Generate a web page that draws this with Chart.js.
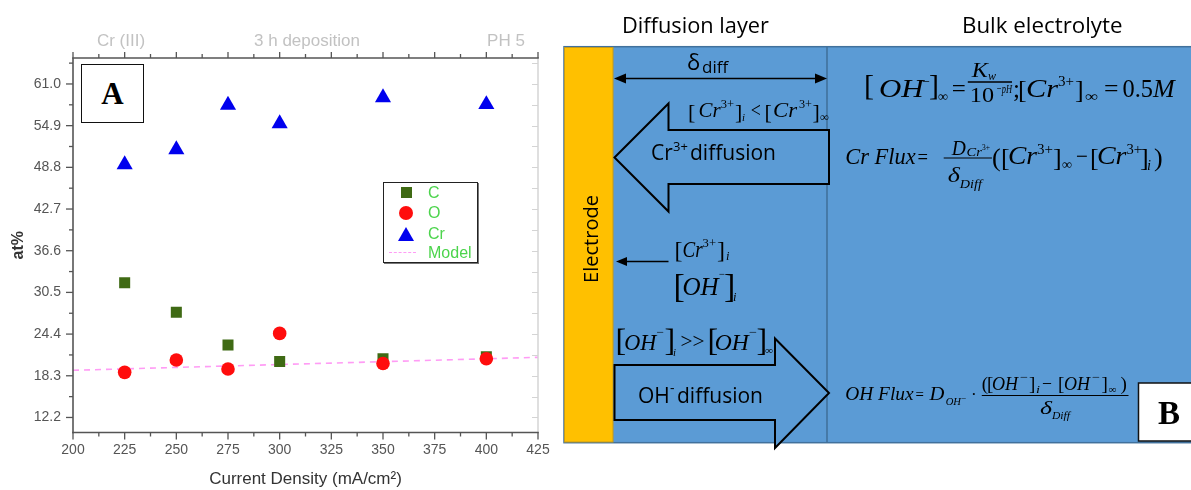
<!DOCTYPE html>
<html><head><meta charset="utf-8">
<script src="https://cdn.jsdelivr.net/npm/chart.js@4.4.1/dist/chart.umd.min.js"></script>
<style>
html,body{margin:0;padding:0;background:#fff;}
#wrap{position:relative;width:1191px;height:490px;overflow:hidden;background:#fff;}
#chart{position:absolute;left:0;top:0;}
.top{position:absolute;font:17px "Liberation Sans",Arial,sans-serif;color:#c2c2c2;transform:translate(-50%,-50%);white-space:nowrap;}
.lg{position:absolute;font:16px "Liberation Sans",Arial,sans-serif;color:#4cd44c;transform:translateY(-50%);white-space:nowrap;line-height:16px;}
#abox{position:absolute;left:81px;top:64px;width:63px;height:59px;box-sizing:border-box;border:1.5px solid #111;background:#fff;
 font:bold 31px "Liberation Serif","Times New Roman",serif;display:flex;align-items:center;justify-content:center;}
#legend{position:absolute;left:383px;top:182px;width:95px;height:81px;box-sizing:border-box;border:1.5px solid #222;box-shadow:1px 1px 0 #777;background:#fff;}
svg{position:absolute;left:0;top:0;}
</style></head>
<body>
<div id="wrap">
<canvas id="chart" width="560" height="490"></canvas>
<div class="top" style="left:121px;top:41px">Cr (III)</div>
<div class="top" style="left:307px;top:41px">3 h deposition</div>
<div class="top" style="left:506px;top:41px">PH 5</div>
<div id="abox">A</div>
<div id="legend"></div>
<div style="position:absolute;left:400.5px;top:187px;width:11px;height:11px;background:#3f6a14"></div>
<div class="lg" style="left:428px;top:192.5px">C</div>
<div style="position:absolute;left:399px;top:206px;width:14px;height:14px;border-radius:50%;background:#ff0d0d"></div>
<div class="lg" style="left:428px;top:213px">O</div>
<div style="position:absolute;left:398px;top:226.5px;width:0;height:0;border-left:8px solid transparent;border-right:8px solid transparent;border-bottom:14px solid #0000ee"></div>
<div class="lg" style="left:428px;top:233.5px">Cr</div>
<div style="position:absolute;left:389px;top:252px;width:27px;height:0;border-top:1.5px dashed #ff9cf5"></div>
<div class="lg" style="left:428px;top:253px">Model</div>
<svg id="diag" width="1191" height="490" xmlns="http://www.w3.org/2000/svg"></svg>
</div>
<script>
// ---- chart data ----
const currentDensity = [225, 250, 275, 300, 350, 400];
const carbonAt = [31.9, 27.6, 22.8, 20.4, 20.8, 21.1];
const oxygenAt = [18.8, 20.6, 19.3, 24.5, 20.1, 20.8];
const chromiumAt = [49.2, 51.4, 57.9, 55.2, 59.0, 58.0];
const modelX = [200, 425];
const modelY = [19.1, 21.0];
const xTickValues = [200, 225, 250, 275, 300, 325, 350, 375, 400, 425];
const yTickValues = [12.2, 18.3, 24.4, 30.5, 36.6, 42.7, 48.8, 54.9, 61.0];

const toPts = (xs, ys) => xs.map((x, i) => ({x: x, y: ys[i]}));
const mids = (arr, lo, hi) => {
  const out = [];
  const step = arr[1] - arr[0];
  out.push(arr[0] - step / 2);
  for (let i = 0; i < arr.length - 1; i++) out.push((arr[i] + arr[i + 1]) / 2);
  out.push(arr[arr.length - 1] + step / 2);
  return out.filter(v => v > lo && v < hi);
};

const frameTicks = {
  id: 'frameTicks',
  afterDraw(chart) {
    const {ctx, chartArea: a, scales: {x, y}} = chart;
    const ln = (x1, y1, x2, y2) => { ctx.beginPath(); ctx.moveTo(x1, y1); ctx.lineTo(x2, y2); ctx.stroke(); };
    const xMin = mids(xTickValues, x.min, x.max), yMin = mids(yTickValues, y.min, y.max);
    ctx.save();
    ctx.strokeStyle = '#d4d4d4'; ctx.lineWidth = 1.5;
    ln(a.right, a.top, a.right, a.bottom);
    ctx.lineWidth = 1;
    yTickValues.concat(yMin).forEach(v => { const p = Math.round(y.getPixelForValue(v)) + 0.5; ln(a.right - 6, p, a.right, p); });
    ctx.strokeStyle = '#555'; ctx.lineWidth = 1.6;
    ln(a.left, a.top, a.left, a.bottom + 0.8);
    ln(a.left - 0.8, a.bottom, a.right + 0.8, a.bottom);
    ln(a.left - 0.8, a.top, a.right + 0.8, a.top);
    ctx.lineWidth = 1.3;
    xTickValues.forEach(v => { const p = x.getPixelForValue(v); ln(p, a.bottom, p, a.bottom + 7); ln(p, a.top, p, a.top - 6); });
    xMin.forEach(v => { const p = x.getPixelForValue(v); ln(p, a.bottom, p, a.bottom + 4); ln(p, a.top, p, a.top - 4); });
    yTickValues.forEach(v => { const p = y.getPixelForValue(v); ln(a.left - 7, p, a.left, p); });
    yMin.forEach(v => { const p = y.getPixelForValue(v); ln(a.left - 4, p, a.left, p); });
    ctx.restore();
  }
};

const tickFont = {family: '"Liberation Sans", Arial, sans-serif', size: 14};
new Chart(document.getElementById('chart'), {
  type: 'scatter',
  data: {datasets: [
    {label: 'C', data: toPts(currentDensity, carbonAt), pointStyle: 'rect', pointRadius: 7.8, backgroundColor: '#3f6a14', borderWidth: 0, order: 1},
    {label: 'O', data: toPts(currentDensity, oxygenAt), pointStyle: 'circle', pointRadius: 6.8, backgroundColor: '#ff0d0d', borderWidth: 0, order: 0},
    {label: 'Cr', data: toPts(currentDensity, chromiumAt), pointStyle: 'triangle', pointRadius: 9.3, backgroundColor: '#0000ee', borderWidth: 0, order: 2},
    {label: 'Model', data: toPts(modelX, modelY), showLine: true, borderColor: '#ff9cf5', borderDash: [6, 5], borderWidth: 1.6, pointRadius: 0, order: 3}
  ]},
  options: {
    responsive: false, animation: false, devicePixelRatio: 1, events: [],
    layout: {padding: {top: 58, right: 22, left: 0, bottom: 0}},
    plugins: {legend: {display: false}, tooltip: {enabled: false}},
    scales: {
      x: {
        type: 'linear', min: 200, max: 425,
        afterBuildTicks: s => { s.ticks = xTickValues.map(v => ({value: v})); },
        afterFit: s => { s.height = 57.5; },
        grid: {display: false, drawTicks: false}, border: {display: false},
        ticks: {font: tickFont, color: '#555', padding: 9, maxRotation: 0, autoSkip: false},
        title: {display: true, text: 'Current Density (mA/cm²)', color: '#333',
          font: {family: '"Liberation Sans", Arial, sans-serif', size: 17}, padding: {top: 0, bottom: 0}}
      },
      y: {
        type: 'linear', min: 10, max: 64.8,
        afterBuildTicks: s => { s.ticks = yTickValues.map(v => ({value: v})); },
        afterFit: s => { s.width = 73; },
        grid: {display: false, drawTicks: false}, border: {display: false},
        ticks: {font: tickFont, color: '#555', padding: 12, autoSkip: false, callback: v => Number(v).toFixed(1)},
        title: {display: true, text: 'at%', color: '#333',
          font: {family: '"Liberation Sans", Arial, sans-serif', size: 16, weight: 'bold'}, padding: {top: 9.4, bottom: 0}}
      }
    }
  },
  plugins: [frameTicks]
});

// ---- diagram (panel B) ----
const svg = document.getElementById('diag');
const NS = 'http://www.w3.org/2000/svg';
function el(tag, attrs, text) {
  const e = document.createElementNS(NS, tag);
  for (const k in attrs) e.setAttribute(k, attrs[k]);
  if (text != null) e.textContent = text;
  svg.appendChild(e);
  return e;
}
const SERIF = '"Liberation Serif","Times New Roman",serif';
const SANS = '"Open Sans","Noto Sans",sans-serif';
function P(x1, x2, y, s, size, st) {
  const a = {x: x1, y: y, 'font-size': size, fill: '#000', 'font-family': st === 's' ? SANS : SERIF};
  if (st === 'i') a['font-style'] = 'italic';
  if (st === 'b') a['font-weight'] = 'bold';
  if (x2) { a.textLength = x2 - x1; a.lengthAdjust = 'spacingAndGlyphs'; }
  return el('text', a, s);
}
const BLUE = '#5b9bd5', EDGE = '#41719c';
el('rect', {x: 564, y: 46.7, width: 640, height: 396, fill: BLUE, stroke: EDGE, 'stroke-width': 1.5});
el('rect', {x: 564.5, y: 47.5, width: 48.5, height: 394.5, fill: '#ffc000', stroke: '#c49a1a', 'stroke-width': 1});
el('line', {x1: 827, y1: 47, x2: 827, y2: 442.5, stroke: EDGE, 'stroke-width': 1.6});
el('polygon', {points: '614.5,157.5 668.5,103.5 668.5,130 829,130 829,184 668.5,184 668.5,211.5', fill: BLUE, stroke: '#000', 'stroke-width': 2});
el('polygon', {points: '614.5,365 775,365 775,338.5 829,393 775,448 775,420 614.5,420', fill: BLUE, stroke: '#000', 'stroke-width': 2});
el('line', {x1: 624, y1: 78.5, x2: 817, y2: 78.5, stroke: '#000', 'stroke-width': 1.5});
el('polygon', {points: '614,78.5 626,73.5 626,83.5', fill: '#000'});
el('polygon', {points: '827,78.5 815,73.5 815,83.5', fill: '#000'});
el('line', {x1: 626, y1: 261.5, x2: 668.5, y2: 261.5, stroke: '#000', 'stroke-width': 1.5});
el('polygon', {points: '616,261.5 627,257 627,266', fill: '#000'});

// headings & sans labels
P(622, 769, 33, 'Diffusion layer', 21, 's');
P(962, 1122.5, 33, 'Bulk electrolyte', 21, 's');
P(687, null, 70, 'δ', 22, 's');
P(702, null, 73, 'diff', 17, 's');
P(651, null, 160, 'Cr', 21, 's');
P(673, null, 151, '3+', 13, 's');
P(690, null, 160, 'diffusion', 21, 's');
P(638, null, 403, 'OH', 21, 's');
P(670, null, 393, '-', 14, 's');
P(677, null, 403, 'diffusion', 21, 's');
el('text', {x: 0, y: 7, 'font-size': 20, 'font-family': SANS, fill: '#000', 'text-anchor': 'middle',
  transform: 'translate(591,239) rotate(-90)'}, 'Electrode');

// [OH-]inf = Kw / 10^-pH ; [Cr3+]inf = 0.5M
P(864, null, 95, '[', 30, 'r');
P(879, 923.6, 96.5, 'OH', 26, 'i');
P(922, 930, 86, '−', 14, 'r');
P(929, null, 95, ']', 30, 'r');
P(938, 948, 101, '∞', 14, 'r');
P(951.7, 965.8, 96.5, '=', 25, 'r');
el('line', {x1: 967.8, y1: 82, x2: 1012, y2: 82, stroke: '#000', 'stroke-width': 1.3});
P(971.8, 987.9, 77, 'K', 22, 'i');
P(988, 996, 80, 'w', 13, 'i');
P(969.8, 994, 102, '10', 22, 'r');
P(996, 1012, 93, '−pH', 13, 'i');
P(1013, null, 96.5, ';', 25, 'r');
P(1018, null, 98, '[', 26, 'r');
P(1026, 1058, 96.5, 'Cr', 26, 'i');
P(1058, 1074, 86, '3+', 14, 'r');
P(1075, null, 98, ']', 26, 'r');
P(1085, 1098, 101, '∞', 14, 'r');
P(1104, 1118.5, 96.5, '=', 25, 'r');
P(1122.5, 1153, 96.5, '0.5', 25, 'r');
P(1153, 1174.7, 96.5, 'M', 25, 'i');

// Cr Flux
P(845.3, 915.6, 164, 'Cr Flux', 23, 'i');
P(917.5, 928, 164, '=', 22, 'r');
el('line', {x1: 943.7, y1: 158, x2: 991.9, y2: 158, stroke: '#000', 'stroke-width': 1.2});
P(951.7, 965.8, 155, 'D', 21, 'i');
P(966.6, 981.9, 156, 'Cr', 12, 'i');
P(982, 990, 150, '3+', 9, 'r');
P(947.7, 959.8, 182, 'δ', 21, 'i');
P(959.8, 981.9, 188, 'Diff', 12, 'i');
P(992, null, 166, '(', 26, 'r');
P(1001, null, 166, '[', 26, 'r');
P(1008, 1037, 164, 'Cr', 26, 'i');
P(1037, 1053, 154, '3+', 14, 'r');
P(1053, null, 166, ']', 26, 'r');
P(1062, 1072, 169, '∞', 14, 'r');
P(1076, 1088, 164, '−', 24, 'r');
P(1090, null, 166, '[', 26, 'r');
P(1097, 1126.5, 164, 'Cr', 26, 'i');
P(1126.5, 1142, 154, '3+', 14, 'r');
P(1140, null, 166, ']', 26, 'r');
P(1147, 1151, 170, 'i', 14, 'i');
P(1154, null, 166, ')', 26, 'r');

// OH Flux
P(845.3, 913.6, 400, 'OH Flux', 19, 'i');
P(915.6, 924, 400, '=', 17, 'r');
P(929.6, 944.5, 400, 'D', 19, 'i');
P(945.7, 961, 405, 'OH', 11, 'i');
P(961, 966, 401, '−', 9, 'r');
P(971, null, 400, '·', 17, 'r');
el('line', {x1: 981.8, y1: 395.5, x2: 1128.5, y2: 395.5, stroke: '#000', 'stroke-width': 1.2});
P(981.8, null, 390, '(', 19, 'r');
P(987, null, 390, '[', 19, 'r');
P(991.9, 1018, 390, 'OH', 19, 'i');
P(1020, 1028, 381, '−', 12, 'r');
P(1029, null, 390, ']', 19, 'r');
P(1036, 1040, 393, 'i', 11, 'i');
P(1042, 1052, 390, '−', 19, 'r');
P(1058, null, 390, '[', 19, 'r');
P(1064, 1090, 390, 'OH', 19, 'i');
P(1092, 1100, 381, '−', 12, 'r');
P(1101.5, null, 390, ']', 19, 'r');
P(1108.4, 1116.4, 393, '∞', 11, 'r');
P(1120.5, null, 390, ')', 19, 'r');
P(1040, 1052, 414, 'δ', 19, 'i');
P(1052, 1070, 419, 'Diff', 11, 'i');

// [Cr3+]i < [Cr3+]inf
P(688, null, 119, '[', 22, 'r');
P(698.6, 720.7, 117, 'Cr', 21, 'i');
P(720.7, 734, 108, '3+', 12, 'r');
P(735, null, 119, ']', 22, 'r');
P(742, 745, 121, 'i', 11, 'i');
P(750.8, 760.9, 117, '<', 20, 'r');
P(764.5, null, 119, '[', 22, 'r');
P(773, 797, 117, 'Cr', 21, 'i');
P(799, 812, 108, '3+', 12, 'r');
P(812.5, null, 119, ']', 22, 'r');
P(820, 829, 121, '∞', 12, 'r');

// [Cr3+]i
P(674.5, null, 258, '[', 24, 'r');
P(682.5, 702.6, 256.5, 'Cr', 23, 'i');
P(702.6, 716, 247, '3+', 13, 'r');
P(717, null, 258, ']', 24, 'r');
P(726, 729.5, 260, 'i', 12, 'i');

// [OH-]i
P(673.5, null, 297, '[', 34, 'r');
P(682.5, 718.7, 295, 'OH', 25, 'i');
P(719, 725, 278, '−', 12, 'r');
P(724, null, 297, ']', 34, 'r');
P(733, 736.5, 301, 'i', 12, 'i');

// [OH-]i >> [OH-]inf
P(615.5, null, 351, '[', 32, 'r');
P(624.3, 656.4, 350, 'OH', 24, 'i');
P(656.5, 664, 336, '−', 12, 'r');
P(664.5, null, 351, ']', 32, 'r');
P(673, 676, 356, 'i', 11, 'i');
P(680.5, 704.6, 348, '>>', 20, 'r');
P(707.5, null, 351, '[', 32, 'r');
P(714.7, 748.8, 350, 'OH', 24, 'i');
P(749, 757, 336, '−', 12, 'r');
P(756.5, null, 351, ']', 32, 'r');
P(765, 773, 354, '∞', 11, 'r');

// B box
el('rect', {x: 1138.5, y: 383, width: 60, height: 58, fill: '#fff', stroke: '#111', 'stroke-width': 1.5});
el('text', {x: 1169, y: 424, 'font-size': 33, 'font-weight': 'bold', 'font-family': SERIF, 'text-anchor': 'middle', fill: '#000'}, 'B');
</script>
</body></html>
